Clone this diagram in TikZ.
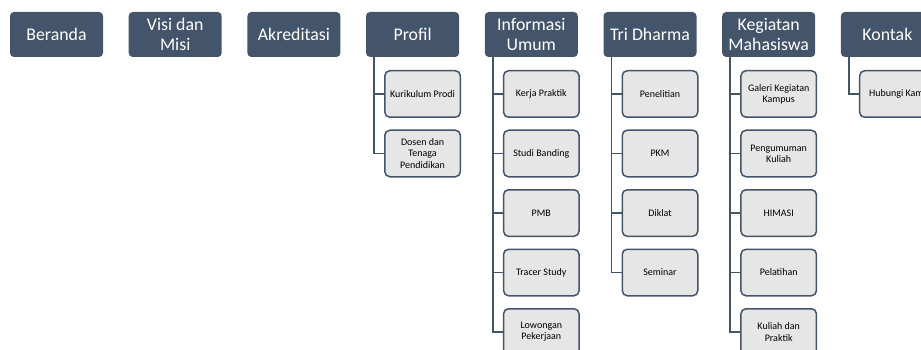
\documentclass[tikz,border=0pt]{standalone}
\usepackage{fontspec}
\setmainfont{Carlito}
\usetikzlibrary{positioning}

\definecolor{slate}{HTML}{44546A}
\definecolor{lightbox}{HTML}{E7E6E6}

\begin{document}
\begin{tikzpicture}[
            x = 1pt, y = 1pt, % one unit is one pixel of the page
            node distance = 11.5pt and 25.7pt, % gap between boxes
            line width = 1.5pt % line style
        ]

        \tikzstyle{menu}=[
            fill = slate,
            text = white,
            rounded corners = 4pt,
            minimum width = 93pt,
            minimum height = 45pt,
            inner sep = 0pt,
            outer sep = 0pt,
            align = center,
            font = \fontsize{17.8}{19.5}\selectfont
        ]
        \tikzstyle{submenu}=[
            draw = slate,
            fill = lightbox,
            rounded corners = 5pt,
            minimum width = 75.5pt,
            minimum height = 46.5pt,
            inner sep = 0pt,
            align = center,
            font = \fontsize{10}{11.2}\selectfont
        ]
        \tikzstyle{branch}=[draw = slate, line width = 1.5pt]

        \useasboundingbox (0,0) rectangle (921,-350);
        \clip (0,0) rectangle (921,-350);

	% top menu
	\node[menu, anchor=north west] (ber) at (10,-12) {Beranda};
	\node[menu] (visi) [right=of ber] {Visi dan\\Misi};
	\node[menu] (akr) [right=of visi] {Akreditasi};
	\node[menu] (prof) [right=of akr] {Profil};
	\node[menu] (info) [right=of prof] {Informasi\\Umum};
	\node[menu] (tri) [right=of info] {Tri Dharma};
	\node[menu] (keg) [right=of tri] {Kegiatan\\Mahasiswa};
	\node[menu] (kon) [right=of keg] {Kontak};

	% profil
	\node[submenu] (prof1) [below right=13pt and 18pt of prof.south west] {Kurikulum Prodi};
	\node[submenu] (prof2) [below=of prof1] {Dosen dan\\Tenaga\\Pendidikan};

	% informasi umum
	\node[submenu] (info1) [below right=13pt and 18pt of info.south west] {Kerja Praktik};
	\node[submenu] (info2) [below=of info1] {Studi Banding};
	\node[submenu] (info3) [below=of info2] {PMB};
	\node[submenu] (info4) [below=of info3] {Tracer Study};
	\node[submenu] (info5) [below=of info4] {Lowongan\\Pekerjaan};

	% tri dharma
	\node[submenu] (tri1) [below right=13pt and 18pt of tri.south west] {Penelitian};
	\node[submenu] (tri2) [below=of tri1] {PKM};
	\node[submenu] (tri3) [below=of tri2] {Diklat};
	\node[submenu] (tri4) [below=of tri3] {Seminar};

	% kegiatan mahasiswa
	\node[submenu] (keg1) [below right=13pt and 18pt of keg.south west] {Galeri Kegiatan\\Kampus};
	\node[submenu] (keg2) [below=of keg1] {Pengumuman\\Kuliah};
	\node[submenu] (keg3) [below=of keg2] {HIMASI};
	\node[submenu] (keg4) [below=of keg3] {Pelatihan};
	\node[submenu] (keg5) [below=of keg4] {Kuliah dan\\Praktik};

	% kontak
	\node[submenu] (kon1) [below right=13pt and 18pt of kon.south west] {Hubungi Kami};

	% branches
	\coordinate (prof-l) at ([xshift=8pt]prof.south west);
	\coordinate (info-l) at ([xshift=8pt]info.south west);
	\coordinate (tri-l) at ([xshift=8pt]tri.south west);
	\coordinate (keg-l) at ([xshift=8pt]keg.south west);
	\coordinate (kon-l) at ([xshift=8pt]kon.south west);

	\foreach \c in {prof1, prof2}
	    \draw[branch] (prof-l) |- (\c.west);
	\foreach \c in {info1, info2, info3, info4, info5}
	    \draw[branch] (info-l) |- (\c.west);
	\foreach \c in {tri1, tri2, tri3, tri4}
	    \draw[branch] (tri-l) |- (\c.west);
	\foreach \c in {keg1, keg2, keg3, keg4, keg5}
	    \draw[branch] (keg-l) |- (\c.west);
	\draw[branch] (kon-l) |- (kon1.west);

    \end{tikzpicture}
\end{document}
